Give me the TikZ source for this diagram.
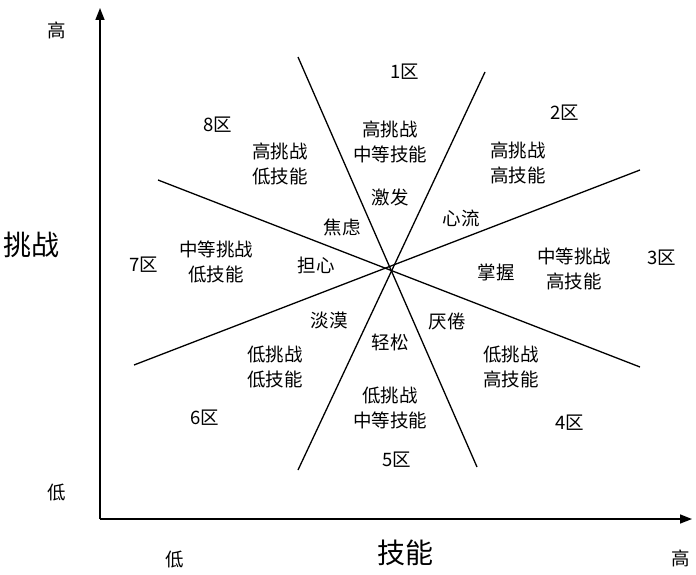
\documentclass[tikz,border=0pt]{standalone}
\usepackage{fontspec}
\newfontfamily\cjk{Noto Sans CJK SC}
\usetikzlibrary{arrows.meta}
\begin{document}
\begin{tikzpicture}[x=1pt,y=-1pt,
  lbl/.style={font=\cjk\fontsize{18.5}{25}\selectfont,align=center,inner sep=0pt},
  big/.style={font=\cjk\fontsize{28}{32}\selectfont,inner sep=0pt},
  axis/.style={line width=1.6pt,-{Triangle[length=12pt,width=9pt]}},
  div/.style={line width=1.3pt}]
\useasboundingbox (0,0) rectangle (696,575);
\coordinate (o) at (100,519);
\coordinate (ytop) at (100,8);
\coordinate (xend) at (692,519);
\draw[axis] (o) -- (ytop);
\draw[axis] (o) -- (xend);
% dividing lines
\coordinate (a1) at (298,57);  \coordinate (a2) at (477,467);
\coordinate (b1) at (485,72);  \coordinate (b2) at (298,470);
\coordinate (c1) at (158,180); \coordinate (c2) at (640,367);
\coordinate (d1) at (134,365); \coordinate (d2) at (640,170);
\draw[div] (a1) -- (a2);
\draw[div] (b1) -- (b2);
\draw[div] (c1) -- (c2);
\draw[div] (d1) -- (d2);
% axis labels
\node[lbl] (yh) at (57,30) {高};
\node[big] (yl) at (31,245) {挑战};
\node[lbl] (yd) at (57,493) {低};
\node[lbl] (xd) at (175,560) {低};
\node[big] (xl) at (405,553) {技能};
\node[lbl] (xh) at (681,558) {高};
% zone numbers
\node[lbl] (z1) at (405,72) {1区};
\node[lbl] (z2) at (565,113) {2区};
\node[lbl] (z3) at (662,258) {3区};
\node[lbl] (z4) at (570,423) {4区};
\node[lbl] (z5) at (397,460) {5区};
\node[lbl] (z6) at (205,418) {6区};
\node[lbl] (z7) at (144,265) {7区};
\node[lbl] (z8) at (218,125) {8区};
% zone descriptions
\node[lbl] (t1) at (390,142) {高挑战\\中等技能};
\node[lbl] (t2) at (518,163) {高挑战\\高技能};
\node[lbl] (t3) at (574,269) {中等挑战\\高技能};
\node[lbl] (t4) at (511,367) {低挑战\\高技能};
\node[lbl] (t5) at (390,408) {低挑战\\中等技能};
\node[lbl] (t6) at (275,367) {低挑战\\低技能};
\node[lbl] (t7) at (216,262) {中等挑战\\低技能};
\node[lbl] (t8) at (280,164) {高挑战\\低技能};
% states
\node[lbl] (s1) at (390,197) {激发};
\node[lbl] (s2) at (461,218) {心流};
\node[lbl] (s3) at (496,272) {掌握};
\node[lbl] (s4) at (447,321) {厌倦};
\node[lbl] (s5) at (390,342) {轻松};
\node[lbl] (s6) at (329,320) {淡漠};
\node[lbl] (s7) at (316,265) {担心};
\node[lbl] (s8) at (342,227) {焦虑};
\end{tikzpicture}
\end{document}
